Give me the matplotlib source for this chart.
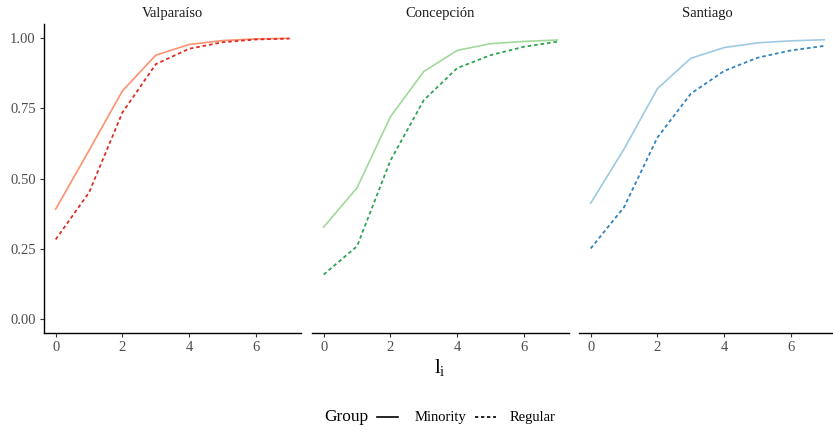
import matplotlib
matplotlib.use("Agg")
import matplotlib.pyplot as plt
from matplotlib.lines import Line2D

plt.rcParams['font.family'] = ['Liberation Serif', 'DejaVu Serif']
plt.rcParams['mathtext.fontset'] = 'custom'
plt.rcParams['mathtext.rm'] = 'Liberation Serif'

x = [0, 1, 2, 3, 4, 5, 6, 7]
cities = ["Valparaíso", "Concepción", "Santiago"]

valparaiso_minority = [0.391, 0.600, 0.812, 0.939, 0.977, 0.991, 0.997, 0.999]
valparaiso_regular = [0.283, 0.450, 0.735, 0.907, 0.962, 0.985, 0.995, 0.998]
concepcion_minority = [0.327, 0.467, 0.720, 0.881, 0.956, 0.980, 0.988, 0.993]
concepcion_regular = [0.158, 0.259, 0.564, 0.779, 0.893, 0.939, 0.969, 0.987]
santiago_minority = [0.412, 0.605, 0.820, 0.928, 0.966, 0.983, 0.990, 0.994]
santiago_regular = [0.251, 0.398, 0.646, 0.802, 0.883, 0.930, 0.956, 0.972]

minority = [valparaiso_minority, concepcion_minority, santiago_minority]
regular = [valparaiso_regular, concepcion_regular, santiago_regular]
minority_colors = ["#fc9272", "#a1d99b", "#9ecae1"]
regular_colors = ["#de2d26", "#31a354", "#3182bd"]
groups = ["Minority", "Regular"]

yticks = [0.00, 0.25, 0.50, 0.75, 1.00]
xticks = [0, 2, 4, 6]

W, H = 833, 433
fig = plt.figure(figsize=(W / 100, H / 100), dpi=100)
lefts = [44, 312, 579]
pw = 257
top, bottom = 24, 333
dash = (0, (2, 1.6))
for i in range(3):
    ax = fig.add_axes([lefts[i] / W, 1 - bottom / H, pw / W, (bottom - top) / H])
    ax.plot(x, minority[i], color=minority_colors[i], lw=1.2)
    ax.plot(x, regular[i], color=regular_colors[i], lw=1.3, linestyle=dash)
    ax.set_xlim(-0.35, 7.35)
    ax.set_ylim(-0.05, 1.05)
    ax.set_xticks(xticks)
    ax.set_xticklabels([str(t) for t in xticks])
    for s in ['top', 'right']:
        ax.spines[s].set_visible(False)
    ax.spines['bottom'].set_linewidth(1.0)
    ax.spines['left'].set_linewidth(1.0)
    ax.tick_params(axis='both', length=3.0, width=0.8, color='#333333',
                   labelcolor='#4d4d4d', labelsize=10.5, pad=3)
    ax.set_title(cities[i], fontsize=10.5, color='#1a1a1a', pad=5)
    if i == 0:
        ax.set_yticks(yticks)
        ax.set_yticklabels([f"{t:.2f}" for t in yticks])
    else:
        ax.spines['left'].set_visible(False)
        ax.set_yticks([])

fig.text(440 / W, 1 - 367 / H, r"$\mathrm{l_i}$", ha='center', va='center',
         fontsize=15)

# legend drawn manually in figure pixel coordinates
ly = 1 - 417 / H
fig.text(324 / W, ly, "Group", ha='left', va='center', fontsize=12.5)
fig.add_artist(Line2D([377 / W, 398 / W], [ly, ly], color='black', lw=1.2))
fig.text(415 / W, ly, groups[0], ha='left', va='center', fontsize=10.5)
fig.add_artist(Line2D([475 / W, 496 / W], [ly, ly], color='black', lw=1.2, linestyle=dash))
fig.text(510 / W, ly, groups[1], ha='left', va='center', fontsize=10.5)

fig.savefig("out.png", dpi=100)
